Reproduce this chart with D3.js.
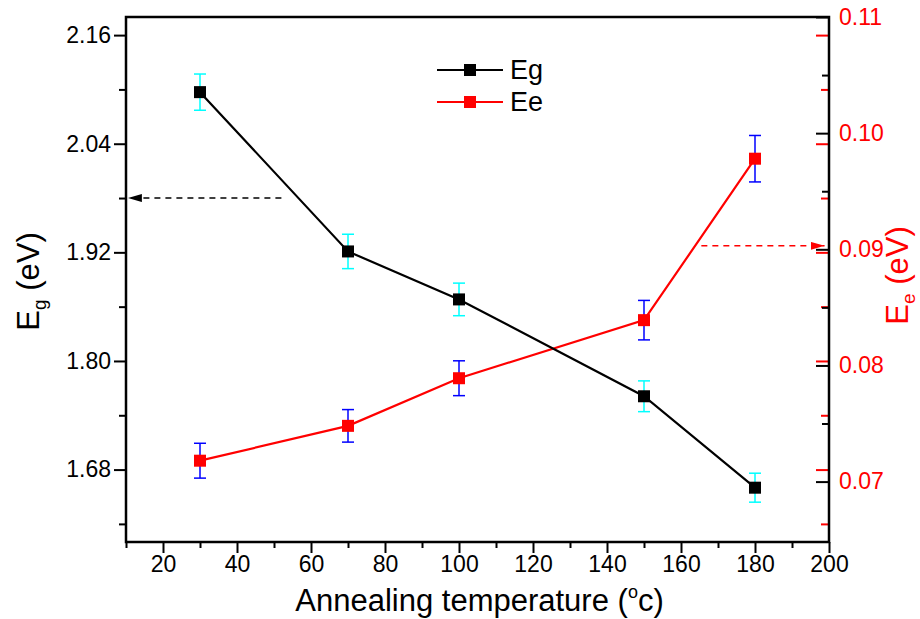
<!DOCTYPE html>
<html>
<head>
<meta charset="utf-8">
<script src="https://cdn.jsdelivr.net/npm/d3@7"></script>
<style>
  body { margin: 0; background: #fff; }
  svg text { font-family: "Liberation Sans", Arial, sans-serif; }
</style>
</head>
<body>
<div id="chartArea"></div>
<script>
const temps = [30, 70, 100, 150, 180];
const egValues = [2.097, 1.921, 1.868, 1.761, 1.660];
const egErrors = [0.020, 0.019, 0.018, 0.017, 0.016];
const eeValues = [0.0718, 0.0748, 0.0789, 0.0839, 0.0978];
const eeErrors = [0.0015, 0.0014, 0.0015, 0.0017, 0.0020];
const xTicks = [20, 40, 60, 80, 100, 120, 140, 160, 180, 200];
const leftTicks = [1.68, 1.80, 1.92, 2.04, 2.16];
const rightTicks = [0.07, 0.08, 0.09, 0.10, 0.11];
const seriesNames = ["Eg", "Ee"];

(function() {
  const W = 920, H = 619;
  const margin = { top: 17, right: 91, bottom: 77, left: 126 };
  const w = W - margin.left - margin.right;
  const h = H - margin.top - margin.bottom;

  const svg = d3
    .select("#chartArea")
    .append("svg")
    .attr("width", W)
    .attr("height", H);

  const g = svg
    .append("g")
    .attr("transform", "translate(" + margin.left + "," + margin.top + ")");

  const xScale = d3.scaleLinear().domain([10, 200]).range([0, w]);
  const yLeft = d3.scaleLinear().domain([1.60, 2.18]).range([h, 0]);
  const yRight = d3.scaleLinear().domain([0.0648, 0.11]).range([h, 0]);

  const steps = (lo, hi, step) => d3.range(lo, hi + step / 2, step);
  const minorOf = (all, majors) => all.filter(v => !majors.some(m => Math.abs(m - v) < 1e-9));

  function ticks(parent, axis, values, size, color) {
    const a = parent.append("g").call(axis.tickValues(values).tickSize(size).tickFormat(""));
    a.select(".domain").remove();
    a.selectAll("line").attr("stroke", color).attr("stroke-width", 2);
    return a;
  }

  // bottom axis
  const bottom = g.append("g").attr("transform", "translate(0," + h + ")");
  ticks(bottom, d3.axisBottom(xScale), minorOf(steps(10, 200, 10), xTicks), 6, "#000");
  const xAx = bottom.append("g")
    .call(d3.axisBottom(xScale).tickValues(xTicks).tickSize(11).tickPadding(3));
  xAx.select(".domain").remove();
  xAx.selectAll("line").attr("stroke-width", 2);
  xAx.selectAll("text").attr("font-size", 23).attr("fill", "#000");

  // left axis
  const leftMinor = minorOf(steps(1.62, 2.16, 0.06), leftTicks);
  ticks(g, d3.axisLeft(yLeft), leftMinor, 7, "#000");
  const yAx = g.append("g")
    .call(d3.axisLeft(yLeft).tickValues(leftTicks).tickSize(12).tickPadding(3).tickFormat(d3.format(".2f")));
  yAx.select(".domain").remove();
  yAx.selectAll("line").attr("stroke-width", 2);
  yAx.selectAll("text").attr("font-size", 23).attr("fill", "#000");

  // right side: left-scale ticks in red, right-scale ticks in black, all inward
  const right = g.append("g").attr("transform", "translate(" + w + ",0)");
  ticks(right, d3.axisLeft(yLeft), leftMinor, 8, "red");
  ticks(right, d3.axisLeft(yLeft), leftTicks, 13, "red");
  ticks(right, d3.axisLeft(yRight), minorOf(steps(0.07, 0.11, 0.005), rightTicks), 7, "#000");
  ticks(right, d3.axisLeft(yRight), rightTicks, 13, "#000");
  const rAx = right.append("g")
    .call(d3.axisRight(yRight).tickValues(rightTicks).tickSize(0).tickPadding(10).tickFormat(d3.format(".2f")));
  rAx.select(".domain").remove();
  rAx.selectAll("text").attr("font-size", 23).attr("fill", "red");

  // frame
  g.append("rect")
    .attr("width", w)
    .attr("height", h)
    .attr("fill", "none")
    .attr("stroke", "#000")
    .attr("stroke-width", 2.5);

  // axis titles
  const lt = svg.append("text")
    .attr("transform", "translate(39," + (margin.top + h / 2 + 2) + ") rotate(-90)")
    .attr("text-anchor", "middle")
    .attr("font-size", 31)
    .attr("fill", "#000");
  lt.append("tspan").text("E");
  lt.append("tspan").attr("font-size", 19).attr("dy", 7).text("g");
  lt.append("tspan").attr("dy", -7).text(" (eV)");

  const rt = svg.append("text")
    .attr("transform", "translate(908," + (margin.top + h / 2 - 4) + ") rotate(-90)")
    .attr("text-anchor", "middle")
    .attr("font-size", 31)
    .attr("fill", "red");
  rt.append("tspan").text("E");
  rt.append("tspan").attr("font-size", 19).attr("dy", 7).text("e");
  rt.append("tspan").attr("dy", -7).text(" (eV)");

  const bt = svg.append("text")
    .attr("x", margin.left + w / 2 + 2)
    .attr("y", 611)
    .attr("text-anchor", "middle")
    .attr("font-size", 31)
    .attr("fill", "#000");
  bt.append("tspan").text("Annealing temperature (");
  bt.append("tspan").attr("font-size", 18).attr("dy", -13).text("o");
  bt.append("tspan").attr("dy", 13).text("c)");

  // arrows
  const defs = svg.append("defs");
  [["arrBlack", "#000"], ["arrRed", "red"]].forEach(([id, c]) => {
    defs.append("marker")
      .attr("id", id)
      .attr("viewBox", "0 0 14 8")
      .attr("refX", 14)
      .attr("refY", 4)
      .attr("markerWidth", 14)
      .attr("markerHeight", 8)
      .attr("markerUnits", "userSpaceOnUse")
      .attr("orient", "auto")
      .append("path")
      .attr("d", "M0,0L14,4L0,8Z")
      .attr("fill", c);
  });
  g.append("line")
    .attr("x1", xScale(52)).attr("x2", xScale(10.5))
    .attr("y1", yLeft(1.980)).attr("y2", yLeft(1.980))
    .attr("stroke", "#000").attr("stroke-width", 1.4)
    .attr("stroke-dasharray", "6,5")
    .attr("marker-end", "url(#arrBlack)");
  g.append("line")
    .attr("x1", xScale(165.5)).attr("x2", xScale(198.8))
    .attr("y1", yRight(0.0903)).attr("y2", yRight(0.0903))
    .attr("stroke", "red").attr("stroke-width", 1.4)
    .attr("stroke-dasharray", "6,5")
    .attr("marker-end", "url(#arrRed)");

  // series
  const egData = temps.map((t, i) => ({ x: t, y: egValues[i], e: egErrors[i] }));
  const eeData = temps.map((t, i) => ({ x: t, y: eeValues[i], e: eeErrors[i] }));

  function drawSeries(data, yScale, color, errColor) {
    const line = d3.line().x(d => xScale(d.x)).y(d => yScale(d.y));
    g.append("path")
      .datum(data)
      .attr("fill", "none")
      .attr("stroke", color)
      .attr("stroke-width", 2.2)
      .attr("d", line);
    const eb = g.append("g").selectAll("g").data(data).enter().append("g");
    eb.append("line")
      .attr("x1", d => xScale(d.x)).attr("x2", d => xScale(d.x))
      .attr("y1", d => yScale(d.y - d.e)).attr("y2", d => yScale(d.y + d.e))
      .attr("stroke", errColor).attr("stroke-width", 1.5);
    [-1, 1].forEach(s => {
      eb.append("line")
        .attr("x1", d => xScale(d.x) - 6).attr("x2", d => xScale(d.x) + 6)
        .attr("y1", d => yScale(d.y + s * d.e)).attr("y2", d => yScale(d.y + s * d.e))
        .attr("stroke", errColor).attr("stroke-width", 1.5);
    });
    g.append("g").selectAll("rect").data(data).enter().append("rect")
      .attr("x", d => xScale(d.x) - 6)
      .attr("y", d => yScale(d.y) - 6)
      .attr("width", 12)
      .attr("height", 12)
      .attr("fill", color);
  }
  drawSeries(eeData, yRight, "red", "blue");
  drawSeries(egData, yLeft, "#000", "cyan");

  // legend
  const legend = svg.append("g").attr("transform", "translate(437,70)");
  const colors = ["#000", "red"];
  seriesNames.forEach((name, i) => {
    const row = legend.append("g").attr("transform", "translate(0," + i * 32 + ")");
    row.append("line").attr("x1", 0).attr("x2", 66).attr("stroke", colors[i]).attr("stroke-width", 2);
    row.append("rect").attr("x", 27).attr("y", -6).attr("width", 12).attr("height", 12).attr("fill", colors[i]);
    row.append("text").attr("x", 73).attr("y", 9).attr("font-size", 27).attr("fill", "#000").text(name);
  });
})();
</script>
</body>
</html>
